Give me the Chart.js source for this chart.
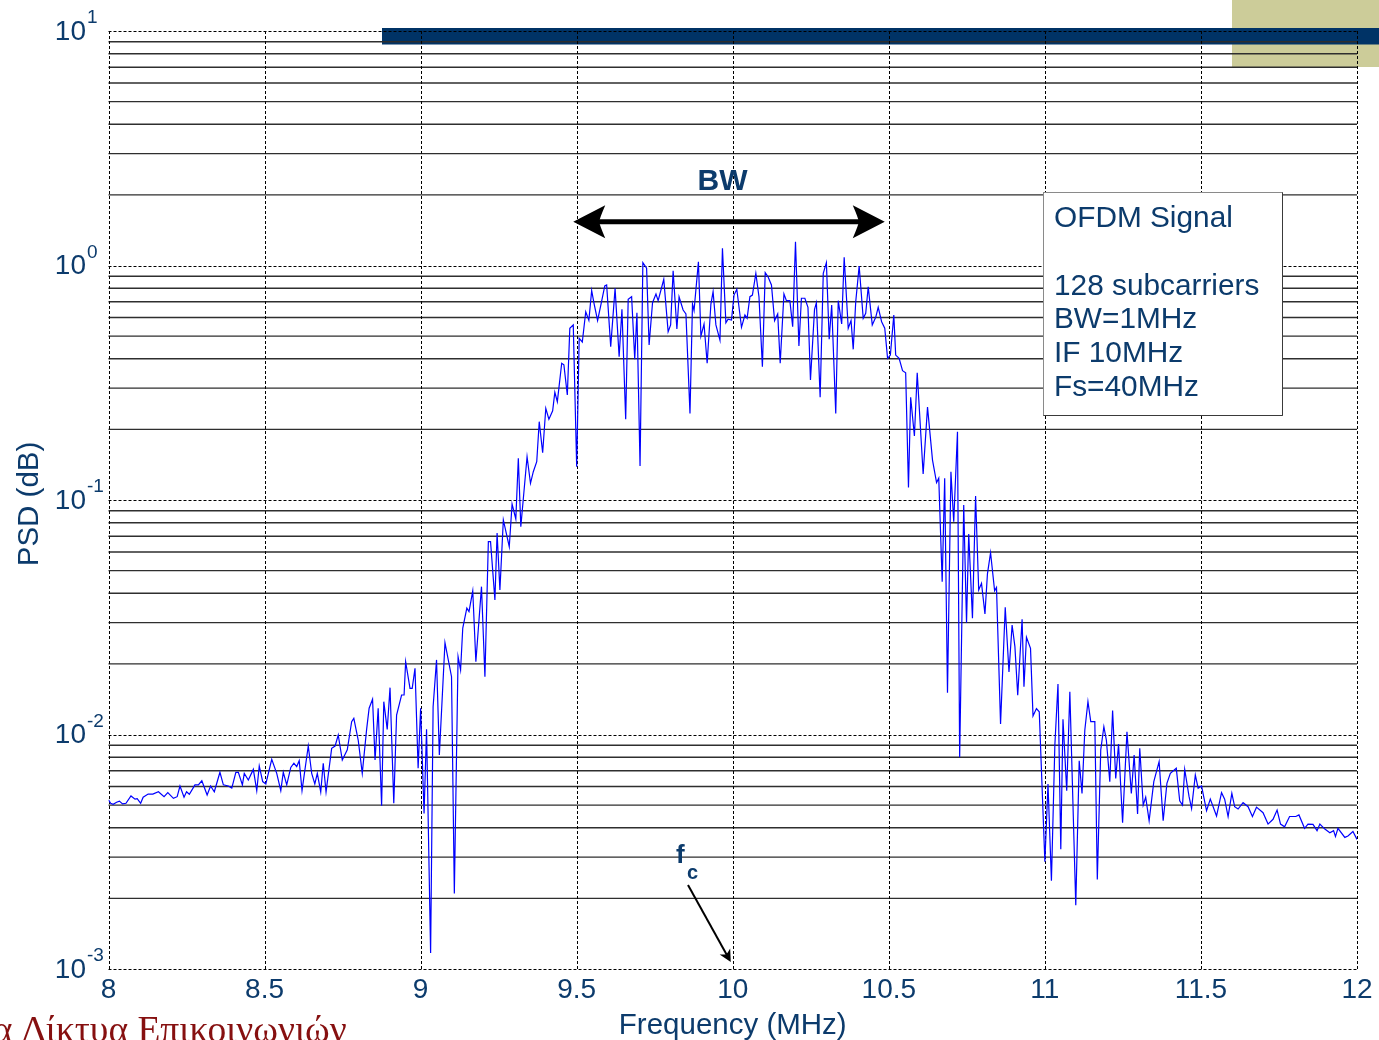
<!DOCTYPE html>
<html>
<head>
<meta charset="utf-8">
<script src="https://cdn.jsdelivr.net/npm/chart.js@4.4.1/dist/chart.umd.min.js"></script>
<style>
  html, body { margin: 0; padding: 0; background: #ffffff; overflow: hidden; }
  #wrap { position: relative; width: 1379px; height: 1040px; }
</style>
</head>
<body>
<div id="wrap"><canvas id="psdChart" width="1379" height="1040"></canvas></div>
<script>
// Frequency axis of the PSD estimate (MHz)
const freqMHz = [
  8.000, 8.007, 8.015, 8.026, 8.035, 8.045, 8.056, 8.072, 8.085, 8.092,
  8.103, 8.111, 8.127, 8.142, 8.160, 8.178, 8.190, 8.208, 8.220, 8.229,
  8.242, 8.250, 8.259, 8.277, 8.288, 8.299, 8.316, 8.327, 8.339, 8.357,
  8.368, 8.384, 8.395, 8.408, 8.416, 8.429, 8.435, 8.448, 8.464, 8.475,
  8.483, 8.494, 8.504, 8.523, 8.539, 8.552, 8.560, 8.571, 8.584, 8.594,
  8.603, 8.611, 8.620, 8.640, 8.651, 8.661, 8.669, 8.680, 8.688, 8.697,
  8.715, 8.726, 8.736, 8.749, 8.765, 8.779, 8.786, 8.800, 8.813, 8.827,
  8.835, 8.846, 8.854, 8.864, 8.875, 8.882, 8.893, 8.902, 8.914, 8.923,
  8.939, 8.947, 8.952, 8.966, 8.973, 8.982, 8.992, 9.000, 9.011, 9.019,
  9.032, 9.040, 9.051, 9.060, 9.078, 9.099, 9.108, 9.120,
  9.128, 9.135, 9.148, 9.155, 9.167, 9.177, 9.195, 9.206, 9.217, 9.224,
  9.238, 9.245, 9.254, 9.265, 9.284, 9.293, 9.305, 9.313, 9.321, 9.341,
  9.352, 9.361, 9.372, 9.380, 9.391, 9.401, 9.411, 9.423, 9.430, 9.438,
  9.452, 9.459, 9.470, 9.478, 9.489, 9.500, 9.508, 9.518, 9.529, 9.539,
  9.548, 9.556, 9.567, 9.578, 9.590, 9.596, 9.609, 9.623, 9.636, 9.645,
  9.657, 9.665, 9.676, 9.686, 9.693, 9.703, 9.712, 9.724, 9.732, 9.743,
  9.754, 9.761, 9.779, 9.793, 9.801, 9.809, 9.821, 9.828, 9.841, 9.850,
  9.863, 9.871, 9.876, 9.890, 9.898, 9.908, 9.918, 9.930, 9.937, 9.946,
  9.959, 9.967, 9.978, 9.985, 9.996, 10.004, 10.013, 10.028, 10.039, 10.046,
  10.055, 10.063, 10.074, 10.084, 10.095, 10.104, 10.113, 10.124, 10.134, 10.144,
  10.152, 10.164, 10.172, 10.183, 10.192, 10.201, 10.212, 10.220, 10.231, 10.241,
  10.249, 10.262, 10.268, 10.280, 10.290, 10.300, 10.309, 10.317, 10.330, 10.338,
  10.349, 10.357, 10.370, 10.379, 10.386, 10.394, 10.405, 10.418, 10.426, 10.434,
  10.447, 10.458, 10.466, 10.477, 10.487, 10.496, 10.505, 10.516, 10.522, 10.533,
  10.544, 10.554, 10.563, 10.570, 10.582, 10.591, 10.610, 10.624, 10.640, 10.653,
  10.660, 10.671, 10.679, 10.688, 10.699, 10.708, 10.720, 10.727, 10.740, 10.749,
  10.756, 10.768, 10.778, 10.788, 10.797, 10.808, 10.816, 10.826, 10.839, 10.845,
  10.858, 10.873, 10.885, 10.895, 10.904, 10.913, 10.927, 10.933, 10.941, 10.954,
  10.962, 10.973, 10.982, 11.000, 11.010, 11.021, 11.032, 11.042, 11.051, 11.058,
  11.070, 11.080, 11.099, 11.110, 11.119, 11.128, 11.138, 11.147, 11.160, 11.168,
  11.179, 11.189, 11.197, 11.208, 11.217, 11.227, 11.236, 11.249, 11.263, 11.277,
  11.286, 11.297, 11.304, 11.315, 11.323, 11.334, 11.349, 11.366, 11.379, 11.391,
  11.402, 11.421, 11.432, 11.441, 11.448, 11.462, 11.470, 11.482, 11.491, 11.502,
  11.518, 11.530, 11.550, 11.566, 11.576, 11.587, 11.599, 11.608, 11.619, 11.635,
  11.651, 11.665, 11.678, 11.699, 11.715, 11.731, 11.744, 11.755, 11.768, 11.784,
  11.804, 11.814, 11.832, 11.843, 11.859, 11.872, 11.881, 11.897, 11.913, 11.925,
  11.931, 11.939, 11.961, 11.971, 11.987, 12.000
];

// Power spectral density of the OFDM signal at each frequency
const psd = [
  0.00526, 0.00509, 0.00504, 0.00514, 0.00520, 0.00506, 0.00509, 0.00547, 0.00530, 0.00533,
  0.00509, 0.00540, 0.00557, 0.00557, 0.00570, 0.00543, 0.00565, 0.00534, 0.00543, 0.00603,
  0.00540, 0.00570, 0.00556, 0.00610, 0.00610, 0.00635, 0.00552, 0.00603, 0.00570, 0.00690,
  0.00610, 0.00603, 0.00591, 0.00690, 0.00690, 0.00610, 0.00683, 0.00640, 0.00710, 0.00576,
  0.00734, 0.00630, 0.00615, 0.00784, 0.00683, 0.00576, 0.00690, 0.00610, 0.00724, 0.00754,
  0.00730, 0.00773, 0.00576, 0.00893, 0.00683, 0.00615, 0.00683, 0.00569, 0.00754, 0.00569,
  0.00873, 0.00893, 0.00995, 0.00778, 0.00860, 0.01134, 0.01172, 0.00947, 0.00683, 0.01052,
  0.01294, 0.01413, 0.00778, 0.01294, 0.00497, 0.01380, 0.01052, 0.01584, 0.00509, 0.01210,
  0.01474, 0.01474, 0.02044, 0.01574, 0.01574, 0.01915, 0.00718, 0.01294, 0.00461, 0.01052,
  0.00117, 0.01314, 0.02080, 0.00818, 0.02463, 0.01764, 0.00210, 0.02147,
  0.01884, 0.02845, 0.03460, 0.03340, 0.04100, 0.02044, 0.04270, 0.01764, 0.06640, 0.06640,
  0.03750, 0.07230, 0.04130, 0.08220, 0.06320, 0.09610, 0.08300, 0.15060, 0.07690, 0.15300,
  0.11780, 0.13200, 0.14570, 0.21580, 0.15900, 0.24600, 0.22100, 0.24000, 0.28800, 0.26260,
  0.38300, 0.37700, 0.28050, 0.54000, 0.55800, 0.13870, 0.48900, 0.47200, 0.63500, 0.58400,
  0.78200, 0.68500, 0.58300, 0.68500, 0.81800, 0.82600, 0.45100, 0.80000, 0.40800, 0.65000,
  0.22100, 0.71800, 0.73600, 0.39800, 0.62900, 0.13960, 1.02800, 0.97300, 0.45800, 0.69400,
  0.75600, 0.70800, 0.87300, 0.52200, 0.55800, 0.95000, 0.53600, 0.73600, 0.64600, 0.62100,
  0.23400, 0.68500, 0.64300, 1.03800, 0.50000, 0.56300, 0.38300, 0.68500, 0.77300, 0.55800,
  0.48100, 1.18400, 0.57000, 0.59000, 0.58500, 0.74800, 0.79200, 0.54500, 0.61500, 0.59500,
  0.73600, 0.74800, 0.92600, 0.73600, 0.37000, 0.93200, 0.89600, 0.82600, 0.58200, 0.62100,
  0.38300, 0.75600, 0.70800, 0.70800, 0.54800, 1.26300, 0.45400, 0.72500, 0.72500, 0.66300,
  0.32500, 0.65000, 0.69400, 0.27400, 0.92600, 1.02800, 0.48500, 0.67900, 0.23400, 0.70800,
  0.56300, 1.08400, 0.54000, 0.58200, 0.43900, 0.70100, 0.99500, 0.59500, 0.62500, 0.81200,
  0.55800, 0.60100, 0.66300, 0.57600, 0.54000, 0.40200, 0.41500, 0.61500, 0.41500, 0.40200,
  0.35600, 0.34900, 0.11300, 0.27400, 0.18750, 0.34900, 0.12900, 0.24900, 0.14800, 0.11860,
  0.12380, 0.04480, 0.12380, 0.01508, 0.13200, 0.08080, 0.19550, 0.00800, 0.09520, 0.02997,
  0.07160, 0.03130, 0.10400, 0.04130, 0.04410, 0.03270, 0.04840, 0.05960, 0.04100, 0.04240,
  0.01110, 0.03490, 0.01850, 0.02930, 0.02370, 0.01470, 0.03100, 0.01600, 0.02600, 0.02330,
  0.01200, 0.01290, 0.01250, 0.00287, 0.00615, 0.00238, 0.00902, 0.01642, 0.00324, 0.01160,
  0.00576, 0.01522, 0.00187, 0.00773, 0.00561, 0.01045, 0.01380, 0.01134, 0.01134, 0.00241,
  0.00860, 0.01080, 0.00947, 0.00629, 0.01264, 0.00650, 0.00911, 0.00421, 0.01028, 0.00561,
  0.00818, 0.00458, 0.00873, 0.00500, 0.00540, 0.00429, 0.00629, 0.00766, 0.00429, 0.00619,
  0.00683, 0.00718, 0.00522, 0.00500, 0.00710, 0.00543, 0.00484, 0.00672, 0.00590, 0.00603,
  0.00473, 0.00530, 0.00449, 0.00565, 0.00530, 0.00447, 0.00561, 0.00492, 0.00481, 0.00512,
  0.00492, 0.00447, 0.00490, 0.00464, 0.00415, 0.00435, 0.00476, 0.00415, 0.00404, 0.00447,
  0.00447, 0.00454, 0.00398, 0.00415, 0.00414, 0.00389, 0.00415, 0.00395, 0.00381, 0.00389,
  0.00367, 0.00398, 0.00364, 0.00369, 0.00386, 0.00357
];

// Axis ticks and labels
const xTicks = [8, 8.5, 9, 9.5, 10, 10.5, 11, 11.5, 12];
const xTickLabels = ['8', '8.5', '9', '9.5', '10', '10.5', '11', '11.5', '12'];
const yDecadeExponents = [-3, -2, -1, 0, 1];
const yMinorMultipliers = [2, 3, 4, 5, 6, 7, 8, 9];

// Annotation texts
const xTitle = 'Frequency (MHz)';
const yTitle = 'PSD (dB)';
const infoLines = ['OFDM Signal', '', '128 subcarriers', 'BW=1MHz', 'IF 10MHz', 'Fs=40MHz'];
const bwLabel = 'BW';
const bwEdgesMHz = [9.489, 10.487];
const carrierMHz = 10;
const footerText = 'α Δίκτυα Επικοινωνιών';

const TEXT_BLUE = '#0c3b6c';
const SANS = '"Liberation Sans", Arial, Helvetica, sans-serif';
const SERIF = '"Liberation Serif", "Times New Roman", serif';

const points = freqMHz.map((f, i) => ({ x: f, y: psd[i] }));

// Background slide pieces behind the transparent plot
const backdropPlugin = {
  id: 'backdrop',
  beforeDraw(chart) {
    const ctx = chart.ctx;
    ctx.save();
    ctx.fillStyle = '#ffffff';
    ctx.fillRect(0, 0, chart.width, chart.height);
    ctx.fillStyle = '#cccc99';
    ctx.fillRect(1232, 0, chart.width - 1232, 67);
    ctx.fillStyle = '#003366';
    ctx.fillRect(382, 28, chart.width - 382, 16.5);
    ctx.restore();
  }
};

// Grid: solid minor lines, dotted decade lines and dotted verticals
const gridPlugin = {
  id: 'psdGrid',
  beforeDatasetsDraw(chart) {
    const { ctx, chartArea: a, scales: { x, y } } = chart;
    ctx.save();
    ctx.lineWidth = 1.4;
    ctx.strokeStyle = '#2e2e2e';
    ctx.setLineDash([]);
    yDecadeExponents.slice(0, -1).forEach(e => {
      yMinorMultipliers.forEach(m => {
        const py = y.getPixelForValue(m * Math.pow(10, e));
        ctx.beginPath();
        ctx.moveTo(a.left, py);
        ctx.lineTo(a.right, py);
        ctx.stroke();
      });
    });
    ctx.lineWidth = 1;
    ctx.strokeStyle = '#000000';
    ctx.setLineDash([3, 2]);
    yDecadeExponents.forEach(e => {
      const py = Math.round(y.getPixelForValue(Math.pow(10, e))) + 0.5;
      ctx.beginPath();
      ctx.moveTo(a.left, py);
      ctx.lineTo(a.right, py);
      ctx.stroke();
    });
    xTicks.forEach(v => {
      const px = Math.round(x.getPixelForValue(v)) + 0.5;
      ctx.beginPath();
      ctx.moveTo(px, a.top);
      ctx.lineTo(px, a.bottom);
      ctx.stroke();
    });
    ctx.restore();
  }
};

function arrowHead(ctx, tipX, tipY, dir, len, half, notch) {
  // dir: unit vector the arrow points along
  const [dx, dy] = dir;
  const nx = -dy, ny = dx;
  const bx = tipX - dx * len, by = tipY - dy * len;
  const cx = tipX - dx * (len - notch), cy = tipY - dy * (len - notch);
  ctx.beginPath();
  ctx.moveTo(tipX, tipY);
  ctx.lineTo(bx + nx * half, by + ny * half);
  ctx.quadraticCurveTo(cx + nx * half * 0.15, cy + ny * half * 0.15, cx, cy);
  ctx.quadraticCurveTo(cx - nx * half * 0.15, cy - ny * half * 0.15, bx - nx * half, by - ny * half);
  ctx.closePath();
  ctx.fill();
}

// Axis labels, info box and annotations
const labelsPlugin = {
  id: 'psdLabels',
  afterDraw(chart) {
    const { ctx, chartArea: a, scales: { x, y } } = chart;
    ctx.save();

    // x tick labels
    ctx.fillStyle = TEXT_BLUE;
    ctx.font = '28px ' + SANS;
    ctx.textAlign = 'center';
    ctx.textBaseline = 'alphabetic';
    xTicks.forEach((v, i) => {
      ctx.fillText(xTickLabels[i], x.getPixelForValue(v), 998);
    });

    // y tick labels: 10 with superscript exponent
    yDecadeExponents.forEach(e => {
      const py = y.getPixelForValue(Math.pow(10, e));
      ctx.font = '28px ' + SANS;
      ctx.textAlign = 'right';
      ctx.textBaseline = 'middle';
      ctx.fillText('10', 86, py + 1);
      ctx.font = '19px ' + SANS;
      ctx.textAlign = 'left';
      ctx.textBaseline = 'alphabetic';
      ctx.fillText(String(e), 87, py - 8);
    });

    // axis titles
    ctx.font = '29.5px ' + SANS;
    ctx.textAlign = 'center';
    ctx.textBaseline = 'alphabetic';
    ctx.fillText(xTitle, (a.left + a.right) / 2, 1034);
    ctx.save();
    ctx.translate(38, 504);
    ctx.rotate(-Math.PI / 2);
    ctx.fillText(yTitle, 0, 0);
    ctx.restore();

    // info box
    const bx = 1043.5, by = 192.5, bw = 239, bh = 223;
    ctx.fillStyle = '#ffffff';
    ctx.fillRect(bx, by, bw, bh);
    ctx.lineWidth = 1;
    ctx.strokeStyle = '#8a8a8a';
    ctx.strokeRect(bx, by, bw, bh);
    ctx.strokeStyle = '#3a3a3a';
    ctx.beginPath();
    ctx.moveTo(bx + bw, by);
    ctx.lineTo(bx + bw, by + bh);
    ctx.lineTo(bx, by + bh);
    ctx.stroke();
    ctx.fillStyle = TEXT_BLUE;
    ctx.font = '29.8px ' + SANS;
    ctx.textAlign = 'left';
    infoLines.forEach((t, i) => {
      if (t) ctx.fillText(t, 1054, 227 + i * 33.8);
    });

    // bandwidth double arrow
    const ax1 = x.getPixelForValue(bwEdgesMHz[0]);
    const ax2 = x.getPixelForValue(bwEdgesMHz[1]);
    const ay = 221.7;
    ctx.strokeStyle = '#000000';
    ctx.fillStyle = '#000000';
    ctx.lineWidth = 5;
    ctx.beginPath();
    ctx.moveTo(ax1 + 24, ay);
    ctx.lineTo(ax2 - 24, ay);
    ctx.stroke();
    arrowHead(ctx, ax1, ay, [-1, 0], 32, 16.5, 6);
    arrowHead(ctx, ax2, ay, [1, 0], 32, 16.5, 6);

    ctx.fillStyle = TEXT_BLUE;
    ctx.font = 'bold 30px ' + SANS;
    ctx.textAlign = 'center';
    ctx.fillText(bwLabel, (ax1 + ax2) / 2 - 6.5, 190);

    // carrier frequency marker
    ctx.font = 'bold 26px ' + SANS;
    ctx.textAlign = 'left';
    ctx.fillText('f', 676, 863);
    ctx.font = 'bold 20px ' + SANS;
    ctx.fillText('c', 687, 879);
    const tipX = x.getPixelForValue(carrierMHz) - 2;
    const tipY = y.getPixelForValue(0.001) - 7;
    const sx = 688, sy = 885;
    const len = Math.hypot(tipX - sx, tipY - sy);
    const ux = (tipX - sx) / len, uy = (tipY - sy) / len;
    ctx.strokeStyle = '#000000';
    ctx.fillStyle = '#000000';
    ctx.lineWidth = 2;
    ctx.beginPath();
    ctx.moveTo(sx, sy);
    ctx.lineTo(tipX - ux * 8, tipY - uy * 8);
    ctx.stroke();
    arrowHead(ctx, tipX, tipY, [ux, uy], 12, 6, 3);

    // footer course title
    ctx.fillStyle = '#861010';
    ctx.font = '37.5px ' + SERIF;
    ctx.textAlign = 'left';
    ctx.textBaseline = 'alphabetic';
    const lead = ctx.measureText('α ').width;
    ctx.fillText(footerText, 21.7 - lead, 1042);

    ctx.restore();
  }
};

new Chart(document.getElementById('psdChart'), {
  type: 'line',
  data: {
    datasets: [{
      data: points,
      borderColor: '#0000ff',
      borderWidth: 1.2,
      pointRadius: 0,
      tension: 0,
      fill: false
    }]
  },
  options: {
    responsive: false,
    animation: false,
    devicePixelRatio: 1,
    layout: { padding: { left: 108.5, right: 22, top: 31, bottom: 71 } },
    scales: {
      x: { type: 'linear', min: 8, max: 12, display: false },
      y: { type: 'logarithmic', min: 0.001, max: 10, display: false }
    },
    plugins: {
      legend: { display: false },
      tooltip: { enabled: false }
    }
  },
  plugins: [backdropPlugin, gridPlugin, labelsPlugin]
});
</script>
</body>
</html>
